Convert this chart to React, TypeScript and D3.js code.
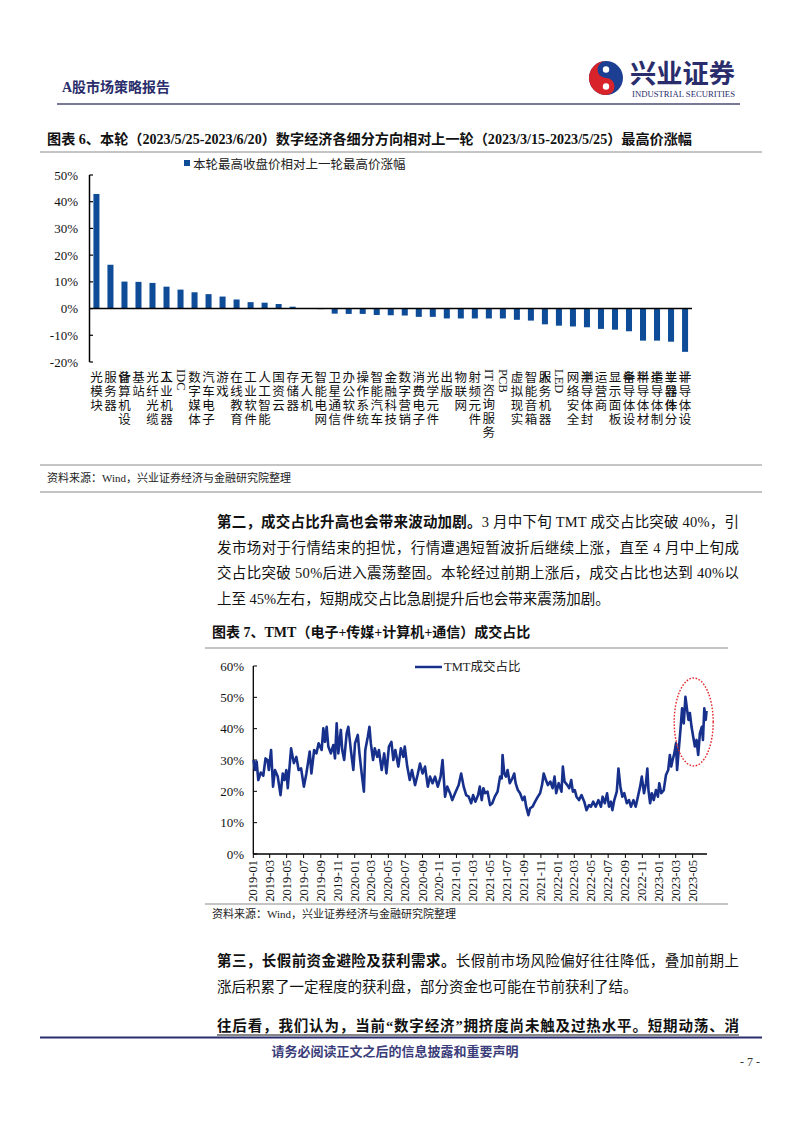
import React from 'react';
import * as d3 from 'd3';

// ---------------- Chart 6 data ----------------
const barCategories = [
  '光模块', '服务器', '计算机设备', '基站', '光纤光缆', '工业机器人', 'IDC', '数字媒体', '汽车电子', '游戏',
  '在线教育', '工业软件', '人工智能', '国资云', '存储器', '无人机', '智能电网', '卫星通信', '办公软件', '操作系统',
  '智能汽车', '金融科技', '数字营销', '消费电子', '光学元件', '出版', '物联网', '射频元件', 'IT咨询服务', 'PCB',
  '虚拟现实', '智能音箱', '服务机器人', 'LED', '网络安全', '半导体封测', '运营商', '显示面板', '半导体设备', '半导体材料',
  '半导体制造', '半导体分立器件', '半导体设计',
];
const barValues = [
  42.9, 16.4, 10.1, 10.0, 9.6, 8.2, 7.1, 6.1, 5.4, 4.5,
  3.4, 2.4, 2.2, 1.7, 0.7, 0.1, -0.2, -1.9, -2.0, -2.0,
  -2.4, -2.5, -2.6, -3.1, -3.1, -3.7, -3.7, -3.7, -3.7, -3.7,
  -4.2, -4.5, -5.9, -6.4, -6.7, -7.0, -7.6, -7.9, -8.5, -12.0,
  -12.0, -12.4, -16.2,
];
const barYTicks = [-20, -10, 0, 10, 20, 30, 40, 50];
const barLegend = '本轮最高收盘价相对上一轮最高价涨幅';

// ---------------- Chart 7 data ----------------
const tmtDates = [
  '2019-01-02', '2019-01-07', '2019-01-13', '2019-01-19', '2019-01-28', '2019-02-06', '2019-02-14', '2019-02-21', '2019-02-26', '2019-03-06',
  '2019-03-13', '2019-03-20', '2019-03-30', '2019-04-09', '2019-04-17', '2019-04-23', '2019-04-30', '2019-05-05', '2019-05-17', '2019-05-27',
  '2019-06-05', '2019-06-13', '2019-06-22', '2019-07-02', '2019-07-11', '2019-07-23', '2019-07-29', '2019-08-08', '2019-08-16', '2019-08-24',
  '2019-09-04', '2019-09-10', '2019-09-16', '2019-09-22', '2019-09-28', '2019-10-07', '2019-10-16', '2019-10-22', '2019-10-28', '2019-11-03',
  '2019-11-12', '2019-11-17', '2019-11-24', '2019-12-03', '2019-12-09', '2019-12-18', '2019-12-27', '2020-01-02', '2020-01-12', '2020-01-18',
  '2020-01-26', '2020-02-03', '2020-02-08', '2020-02-17', '2020-02-23', '2020-02-28', '2020-03-07', '2020-03-13', '2020-03-22', '2020-03-28',
  '2020-04-07', '2020-04-16', '2020-04-24', '2020-05-03', '2020-05-12', '2020-05-19', '2020-05-26', '2020-06-06', '2020-06-15', '2020-06-24',
  '2020-06-29', '2020-07-08', '2020-07-17', '2020-07-25', '2020-08-05', '2020-08-14', '2020-08-23', '2020-09-01', '2020-09-10', '2020-09-20',
  '2020-09-28', '2020-10-07', '2020-10-16', '2020-10-26', '2020-11-05', '2020-11-12', '2020-11-21', '2020-11-29', '2020-12-09', '2020-12-17',
  '2020-12-27', '2021-01-09', '2021-01-18', '2021-01-27', '2021-02-05', '2021-02-14', '2021-02-23', '2021-03-02', '2021-03-10', '2021-03-20',
  '2021-03-26', '2021-04-02', '2021-04-08', '2021-04-14', '2021-04-23', '2021-05-02', '2021-05-10', '2021-05-19', '2021-05-29', '2021-06-07',
  '2021-06-13', '2021-06-16', '2021-06-22', '2021-06-28', '2021-07-04', '2021-07-12', '2021-07-21', '2021-07-28', '2021-08-02', '2021-08-10',
  '2021-08-18', '2021-08-27', '2021-09-03', '2021-09-09', '2021-09-17', '2021-09-23', '2021-10-02', '2021-10-11', '2021-10-21', '2021-10-29',
  '2021-11-05', '2021-11-11', '2021-11-19', '2021-11-26', '2021-12-05', '2021-12-13', '2021-12-20', '2021-12-26', '2022-01-04', '2022-01-14',
  '2022-01-19', '2022-01-25', '2022-02-04', '2022-02-11', '2022-02-18', '2022-02-24', '2022-03-03', '2022-03-09', '2022-03-18', '2022-03-27',
  '2022-04-06', '2022-04-14', '2022-04-23', '2022-04-30', '2022-05-08', '2022-05-17', '2022-05-27', '2022-06-05', '2022-06-11', '2022-06-19',
  '2022-06-27', '2022-07-04', '2022-07-11', '2022-07-16', '2022-07-23', '2022-08-01', '2022-08-07', '2022-08-14', '2022-08-21', '2022-08-28',
  '2022-09-06', '2022-09-14', '2022-09-21', '2022-09-30', '2022-10-08', '2022-10-16', '2022-10-24', '2022-10-30', '2022-11-07', '2022-11-14',
  '2022-11-19', '2022-11-23', '2022-11-29', '2022-12-05', '2022-12-12', '2022-12-20', '2022-12-27', '2023-01-01', '2023-01-08', '2023-01-17',
  '2023-01-25', '2023-02-02', '2023-02-08', '2023-02-13', '2023-02-18', '2023-02-24', '2023-03-02', '2023-03-06', '2023-03-12', '2023-03-19',
  '2023-03-24', '2023-03-30', '2023-04-05', '2023-04-11', '2023-04-16', '2023-04-21', '2023-04-27', '2023-05-03', '2023-05-09', '2023-05-15',
  '2023-05-21', '2023-05-27', '2023-06-03', '2023-06-07', '2023-06-12', '2023-06-17', '2023-06-20',
];
const tmtValues = [
  30.0, 26.8, 29.5, 23.6, 26.0, 25.0, 30.5, 30.0, 26.8, 33.2,
  21.5, 26.8, 24.7, 18.8, 25.7, 23.6, 26.8, 21.0, 33.7, 29.0,
  31.0, 26.8, 27.3, 21.5, 25.7, 32.7, 25.7, 33.2, 32.1, 35.3,
  33.2, 40.1, 35.8, 40.6, 34.3, 32.1, 34.8, 30.5, 41.7, 32.1,
  39.6, 33.2, 30.0, 38.5, 40.6, 33.2, 26.8, 35.3, 38.0, 32.1,
  25.7, 19.9, 33.2, 37.4, 40.6, 35.3, 30.0, 33.7, 31.0, 33.2,
  26.8, 32.1, 25.7, 34.3, 35.8, 30.0, 33.2, 27.9, 33.7, 31.0,
  34.3, 27.9, 23.6, 26.8, 22.0, 25.2, 28.9, 25.7, 27.9, 21.5,
  24.7, 22.6, 24.7, 21.5, 24.7, 30.0, 18.3, 21.5, 19.4, 17.2,
  19.4, 22.0, 25.7, 21.5, 18.8, 18.3, 16.2, 18.8, 16.7, 18.8,
  21.5, 17.2, 21.0, 19.4, 19.9, 15.6, 16.2, 18.3, 19.9, 24.7,
  24.1, 31.6, 25.7, 24.7, 26.8, 22.6, 24.1, 25.7, 22.6, 20.4,
  19.4, 17.2, 18.3, 15.1, 12.4, 14.6, 15.1, 16.7, 18.3, 19.4,
  22.0, 25.7, 23.6, 22.0, 23.1, 21.0, 24.7, 19.4, 22.6, 19.9,
  27.9, 23.1, 22.0, 21.0, 23.6, 19.9, 20.4, 18.3, 17.2, 18.8,
  16.7, 14.0, 15.6, 15.1, 16.7, 15.1, 17.2, 15.1, 18.3, 16.2,
  19.4, 15.1, 16.7, 14.0, 17.2, 19.9, 27.3, 21.5, 18.3, 19.4,
  16.2, 17.2, 15.1, 17.2, 15.1, 18.3, 21.5, 24.7, 19.4, 22.6,
  27.3, 20.4, 16.2, 19.4, 17.2, 20.4, 18.3, 22.6, 19.4, 20.4,
  25.2, 26.8, 31.6, 27.9, 30.0, 32.1, 35.3, 26.8, 33.2, 40.6,
  46.5, 41.7, 50.2, 46.0, 42.8, 45.0, 40.6, 37.4, 34.3, 36.4,
  31.6, 38.5, 40.6, 36.4, 46.5, 42.8, 45.7,
];
const tmtYTicks = [0, 10, 20, 30, 40, 50, 60];
const tmtLegend = 'TMT成交占比';

// ---------------- text content ----------------
const headerLeft = 'A股市场策略报告';
const logoCN = '兴业证券';
const logoEN = 'INDUSTRIAL SECURITIES';
const title6 = '图表 6、本轮（2023/5/25-2023/6/20）数字经济各细分方向相对上一轮（2023/3/15-2023/5/25）最高价涨幅';
const title7 = '图表 7、TMT（电子+传媒+计算机+通信）成交占比';
const sourceText = '资料来源：Wind，兴业证券经济与金融研究院整理';
const para2 = [
  { bold: '第二，成交占比升高也会带来波动加剧。', rest: '3 月中下旬 TMT 成交占比突破 40%，引', justify: true },
  { bold: '', rest: '发市场对于行情结束的担忧，行情遭遇短暂波折后继续上涨，直至 4 月中上旬成', justify: true },
  { bold: '', rest: '交占比突破 50%后进入震荡整固。本轮经过前期上涨后，成交占比也达到 40%以', justify: true },
  { bold: '', rest: '上至 45%左右，短期成交占比急剧提升后也会带来震荡加剧。', justify: false },
];
const para3 = [
  { bold: '第三，长假前资金避险及获利需求。', rest: '长假前市场风险偏好往往降低，叠加前期上', justify: true },
  { bold: '', rest: '涨后积累了一定程度的获利盘，部分资金也可能在节前获利了结。', justify: false },
];
const para4 = '往后看，我们认为，当前“数字经济”拥挤度尚未触及过热水平。短期动荡、消';
const footerText = '请务必阅读正文之后的信息披露和重要声明';
const pageNum = '- 7 -';

const SERIF = "'Liberation Serif','Noto Sans CJK SC',serif";
const CJK = "'Noto Sans CJK SC','Liberation Serif',sans-serif";
const NAVY = '#2a2d6b';
const BAR = '#0e4c98';
const LINE = '#16308c';

const latinW: Record<string, number> = { I: 4.3, T: 7.7, D: 9.1, C: 8.4, P: 7.0, B: 8.4, L: 7.7, E: 7.7 };

function CategoryLabel({ label, x, top }: { label: string; x: number; top: number }) {
  const tokens = label.match(/[A-Za-z]+|./g) || [];
  let y = top;
  let cjk = 0;
  const out: React.ReactNode[] = [];
  tokens.forEach((t, i) => {
    if (/^[A-Za-z]+$/.test(t)) {
      const len = t.split('').reduce((s, c) => s + (latinW[c] || 7.5), 0);
      out.push(
        <text key={i} transform={`translate(${x},${y}) rotate(90)`} dominantBaseline="central"
          fontSize={12.5} fontFamily="'Liberation Serif',serif" fill="#111">{t}</text>
      );
      y += len + 1;
    } else {
      if (cjk > 0 && cjk % 4 === 0) y = top;
      out.push(
        <text key={i} x={x} y={y + 7} textAnchor="middle" dominantBaseline="central"
          fontSize={12.5} fontFamily={CJK} fill="#111">{t}</text>
      );
      y += 14;
      cjk++;
    }
  });
  return <g>{out}</g>;
}

function BarChart() {
  const x = d3.scaleBand<string>().domain(barCategories).range([89.5, 692]).paddingInner(0.57).paddingOuter(0.28);
  const y = d3.scaleLinear().domain([-20, 50]).range([362, 175]);
  const bw = x.bandwidth();
  return (
    <g>
      <rect x={184} y={160} width={6} height={6} fill={BAR} />
      <text x={193} y={163} dominantBaseline="central" fontSize={12.5} fontFamily={CJK} fill="#222">{barLegend}</text>
      <line x1={89.5} x2={89.5} y1={y(50)} y2={y(-20)} stroke="#000" strokeWidth={1.5} />
      {barYTicks.map((t) => (
        <g key={t}>
          <line x1={89.5} x2={93} y1={y(t)} y2={y(t)} stroke="#000" strokeWidth={1.2} />
          <text x={78} y={y(t)} textAnchor="end" dominantBaseline="central" fontSize={13} fontFamily="'Liberation Serif',serif" fill="#111">{t}%</text>
        </g>
      ))}
      {barCategories.map((c, i) => {
        const v = barValues[i];
        const y0 = y(0), y1 = y(v);
        return <rect key={c} x={x(c)} y={Math.min(y0, y1)} width={bw} height={Math.max(0.6, Math.abs(y1 - y0))} fill={BAR} />;
      })}
      <line x1={89.5} x2={692} y1={y(0)} y2={y(0)} stroke="#000" strokeWidth={1.5} />
      {barCategories.map((c) => (
        <CategoryLabel key={c} label={c} x={(x(c) as number) + bw / 2} top={369} />
      ))}
    </g>
  );
}

function LineChart() {
  const parse = d3.timeParse('%Y-%m-%d');
  const dates = tmtDates.map((d) => parse(d) as Date);
  const x = d3.scaleTime().domain([new Date(2019, 0, 1), new Date(2023, 6, 1)]).range([253.3, 709.6]);
  const y = d3.scaleLinear().domain([0, 60]).range([854, 666]);
  const ticks = d3.timeMonth.every(2)!.range(new Date(2019, 0, 1), new Date(2023, 5, 2));
  const fmt = d3.timeFormat('%Y-%m');
  const path = d3.line<number>().x((_, i) => x(dates[i])).y((v) => y(v))(tmtValues) || '';
  return (
    <g>
      <line x1={415} x2={442} y1={667} y2={667} stroke={LINE} strokeWidth={2.5} />
      <text x={444} y={667} dominantBaseline="central" fontSize={12.5} fontFamily={SERIF} fill="#222">{tmtLegend}</text>
      <line x1={253.3} x2={253.3} y1={666} y2={854} stroke="#000" strokeWidth={1.3} />
      {tmtYTicks.map((t) => (
        <g key={t}>
          <line x1={253.3} x2={257} y1={y(t)} y2={y(t)} stroke="#000" strokeWidth={1} />
          <text x={244} y={y(t)} textAnchor="end" dominantBaseline="central" fontSize={13} fontFamily="'Liberation Serif',serif" fill="#111">{t}%</text>
        </g>
      ))}
      <line x1={253.3} x2={707} y1={854} y2={854} stroke="#000" strokeWidth={1.3} />
      {ticks.map((d) => (
        <g key={+d}>
          <line x1={x(d)} x2={x(d)} y1={854} y2={858} stroke="#000" strokeWidth={1} />
          <text transform={`translate(${x(d)},860) rotate(-90)`} textAnchor="end" dominantBaseline="central"
            fontSize={12.5} fontFamily="'Liberation Serif',serif" fill="#111">{fmt(d)}</text>
        </g>
      ))}
      <path d={path} fill="none" stroke={LINE} strokeWidth={2.6} strokeLinejoin="round" />
      <ellipse cx={693.7} cy={722} rx={19.5} ry={44} fill="none" stroke="#e0262b" strokeWidth={1.4} strokeDasharray="1.6,1.6" />
    </g>
  );
}

function Para({ lines, y0, dy }: { lines: { bold: string; rest: string; justify: boolean }[]; y0: number; dy: number }) {
  return (
    <g>
      {lines.map((l, i) => (
        <text key={i} x={217} y={y0 + i * dy} dominantBaseline="central" fontSize={14.5} fontFamily={SERIF} fill="#111"
          {...(l.justify ? { textLength: 522, lengthAdjust: 'spacing' } : {})}>
          {l.bold ? <tspan fontWeight="bold">{l.bold}</tspan> : null}
          <tspan>{l.rest}</tspan>
        </text>
      ))}
    </g>
  );
}

export default function App() {
  return (
    <svg width={802} height={1133} viewBox="0 0 802 1133" style={{ position: 'absolute', left: 0, top: 0, display: 'block', background: '#fff' }}>
      <rect x={0} y={0} width={802} height={1133} fill="#fff" />
      <text x={62} y={87} dominantBaseline="central" fontSize={14} fontWeight="bold" fontFamily={SERIF} fill={NAVY}>{headerLeft}</text>
      <g>
        <circle cx={606} cy={78} r={17} fill="#1d3f93" />
        <path d="M606,61 A17,17 0 0,0 606,95 A8.5,8.5 0 0,0 606,78 A8.5,8.5 0 0,1 606,61 Z" fill="#d8232a" />
        <circle cx={606} cy={69.5} r={3.2} fill="#fff" />
        <circle cx={606} cy={86.5} r={3.2} fill="#fff" />
      </g>
      <text x={630} y={71} dominantBaseline="central" fontSize={26} fontWeight="bold" fontFamily={CJK} fill={NAVY} textLength={105} lengthAdjust="spacingAndGlyphs">{logoCN}</text>
      <text x={632} y={94} dominantBaseline="central" fontSize={7.5} fontFamily="'Liberation Serif',serif" fill={NAVY} textLength={103} lengthAdjust="spacingAndGlyphs">{logoEN}</text>
      <line x1={57} x2={740} y1={104} y2={104} stroke="#4a4d73" strokeWidth={1.5} />

      <text x={47} y={139} dominantBaseline="central" fontSize={14} fontWeight="bold" fontFamily={SERIF} fill="#111" textLength={645} lengthAdjust="spacingAndGlyphs">{title6}</text>
      <line x1={40} x2={762} y1={152} y2={152} stroke="#8a8a8a" strokeWidth={1} />
      <BarChart />
      <line x1={40} x2={762} y1={465} y2={465} stroke="#8a8a8a" strokeWidth={1} />
      <text x={47} y={478} dominantBaseline="central" fontSize={11} fontFamily={SERIF} fill="#222">{sourceText}</text>
      <line x1={40} x2={762} y1={492} y2={492} stroke="#8a8a8a" strokeWidth={1} />

      <Para lines={para2} y0={522} dy={25.5} />

      <text x={212} y={632} dominantBaseline="central" fontSize={14} fontWeight="bold" fontFamily={SERIF} fill="#111">{title7}</text>
      <line x1={205} x2={728} y1={648} y2={648} stroke="#8a8a8a" strokeWidth={1} />
      <LineChart />
      <line x1={205} x2={728} y1={904} y2={904} stroke="#8a8a8a" strokeWidth={1} />
      <text x={212} y={914} dominantBaseline="central" fontSize={11} fontFamily={SERIF} fill="#222">{sourceText}</text>

      <Para lines={para3} y0={961} dy={26} />
      <text x={217} y={1026} dominantBaseline="central" fontSize={14.5} fontWeight="bold" fontFamily={SERIF} fill="#111" textLength={522} lengthAdjust="spacing">{para4}</text>
      <line x1={217} x2={739} y1={1035} y2={1035} stroke="#111" strokeWidth={1} />

      <line x1={40} x2={762} y1={1037.5} y2={1037.5} stroke={NAVY} strokeWidth={2} />
      <text x={395} y={1050} textAnchor="middle" dominantBaseline="central" fontSize={13} fontWeight="bold" fontFamily={CJK} fill="#3b3d7a">{footerText}</text>
      <text x={760} y={1062} textAnchor="end" dominantBaseline="central" fontSize={12} fontFamily={SERIF} fill="#333">{pageNum}</text>
    </svg>
  );
}
